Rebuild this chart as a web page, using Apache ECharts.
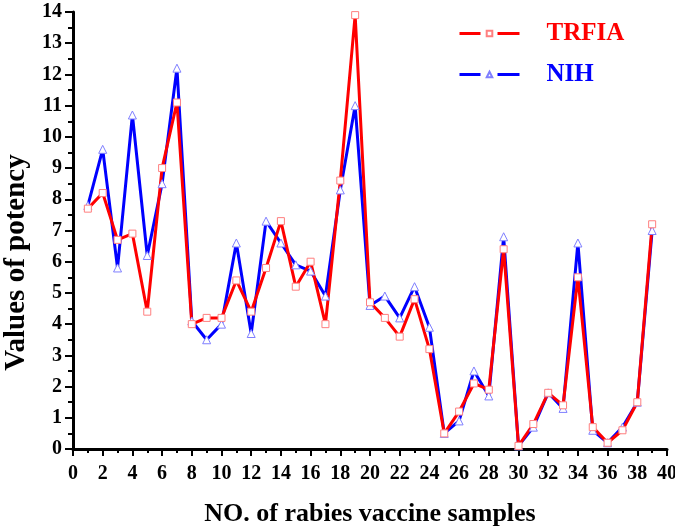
<!DOCTYPE html>
<html><head><meta charset="utf-8">
<script src="https://cdn.jsdelivr.net/npm/echarts@6/dist/echarts.min.js"></script>
<style>html,body{margin:0;padding:0;background:#fff}#c{width:675px;height:531px}</style>
</head><body><div id="c"></div>
<script>
const samples = [1,2,3,4,5,6,7,8,9,10,11,12,13,14,15,16,17,18,19,20,21,22,23,24,25,26,27,28,29,30,31,32,33,34,35,36,37,38,39];
const trfia = [7.7,8.2,6.7,6.9,4.4,9.0,11.1,4.0,4.2,4.2,5.4,4.4,5.8,7.3,5.2,6.0,4.0,8.6,13.9,4.7,4.2,3.6,4.8,3.2,0.5,1.2,2.1,1.9,6.4,0.1,0.8,1.8,1.4,5.5,0.7,0.2,0.6,1.5,7.2];
const nih = [7.8,9.6,5.8,10.7,6.2,8.5,12.2,4.1,3.5,4.0,6.6,3.7,7.3,6.6,5.9,5.7,4.9,8.3,11.0,4.6,4.9,4.2,5.2,3.9,0.5,0.9,2.5,1.7,6.8,0.1,0.7,1.8,1.3,6.6,0.6,0.2,0.7,1.5,7.0];
const font = '"Liberation Serif", "Times New Roman", serif';
const chart = echarts.init(document.getElementById('c'));
const pair = arr => samples.map((x,i)=>[x, arr[i]]);
chart.setOption({
  animation:false,
  grid:{left:73,right:8,top:12,bottom:82,containLabel:false,outerBoundsMode:'none'},
  legend:{
    left:453, top:16, orient:'vertical', itemGap:16,
    itemWidth:60, itemHeight:7,
    lineStyle:{type:[21,17,60],width:3},
    data:[{name:'TRFIA',textStyle:{color:'#ff0000'}},{name:'NIH',textStyle:{color:'#0000ff'}}],
    textStyle:{fontFamily:font,fontWeight:'bold',fontSize:25,padding:[0,0,0,22]}
  },
  xAxis:{
    type:'value',min:0,max:40,interval:2,
    name:'NO. of rabies vaccine samples',nameLocation:'middle',nameGap:52,
    nameTextStyle:{fontFamily:font,fontWeight:'bold',fontSize:26,color:'#000'},
    axisLine:{lineStyle:{color:'#000',width:3}},
    axisTick:{show:true,length:7,lineStyle:{color:'#000',width:2}},
    minorTick:{show:true,splitNumber:2,length:4,lineStyle:{color:'#000',width:2}},
    axisLabel:{fontFamily:font,fontWeight:'bold',fontSize:20,color:'#000',margin:15},
    splitLine:{show:false}
  },
  yAxis:{
    type:'value',min:0,max:14,interval:1,
    name:'Values of potency',nameLocation:'middle',nameGap:37,nameRotate:90,
    nameTextStyle:{fontFamily:font,fontWeight:'bold',fontSize:29,color:'#000',padding:[0,64,0,0]},
    axisLine:{show:true,lineStyle:{color:'#000',width:3}},
    axisTick:{show:true,length:8,lineStyle:{color:'#000',width:2}},
    minorTick:{show:true,splitNumber:2,length:5,lineStyle:{color:'#000',width:2}},
    axisLabel:{fontFamily:font,fontWeight:'bold',fontSize:20,color:'#000',margin:11},
    splitLine:{show:false}
  },
  series:[
    {name:'NIH',type:'line',data:pair(nih),symbol:'triangle',symbolSize:8,showAllSymbol:true,
     lineStyle:{color:'#0000ff',width:3},
     itemStyle:{color:'#ffffff',borderColor:'#7f7fff',borderWidth:1}},
    {name:'TRFIA',type:'line',data:pair(trfia),symbol:'rect',symbolSize:7,showAllSymbol:true,
     lineStyle:{color:'#ff0000',width:3},
     itemStyle:{color:'#ffffff',borderColor:'#ff7f7f',borderWidth:1}}
  ]
});
</script></body></html>
